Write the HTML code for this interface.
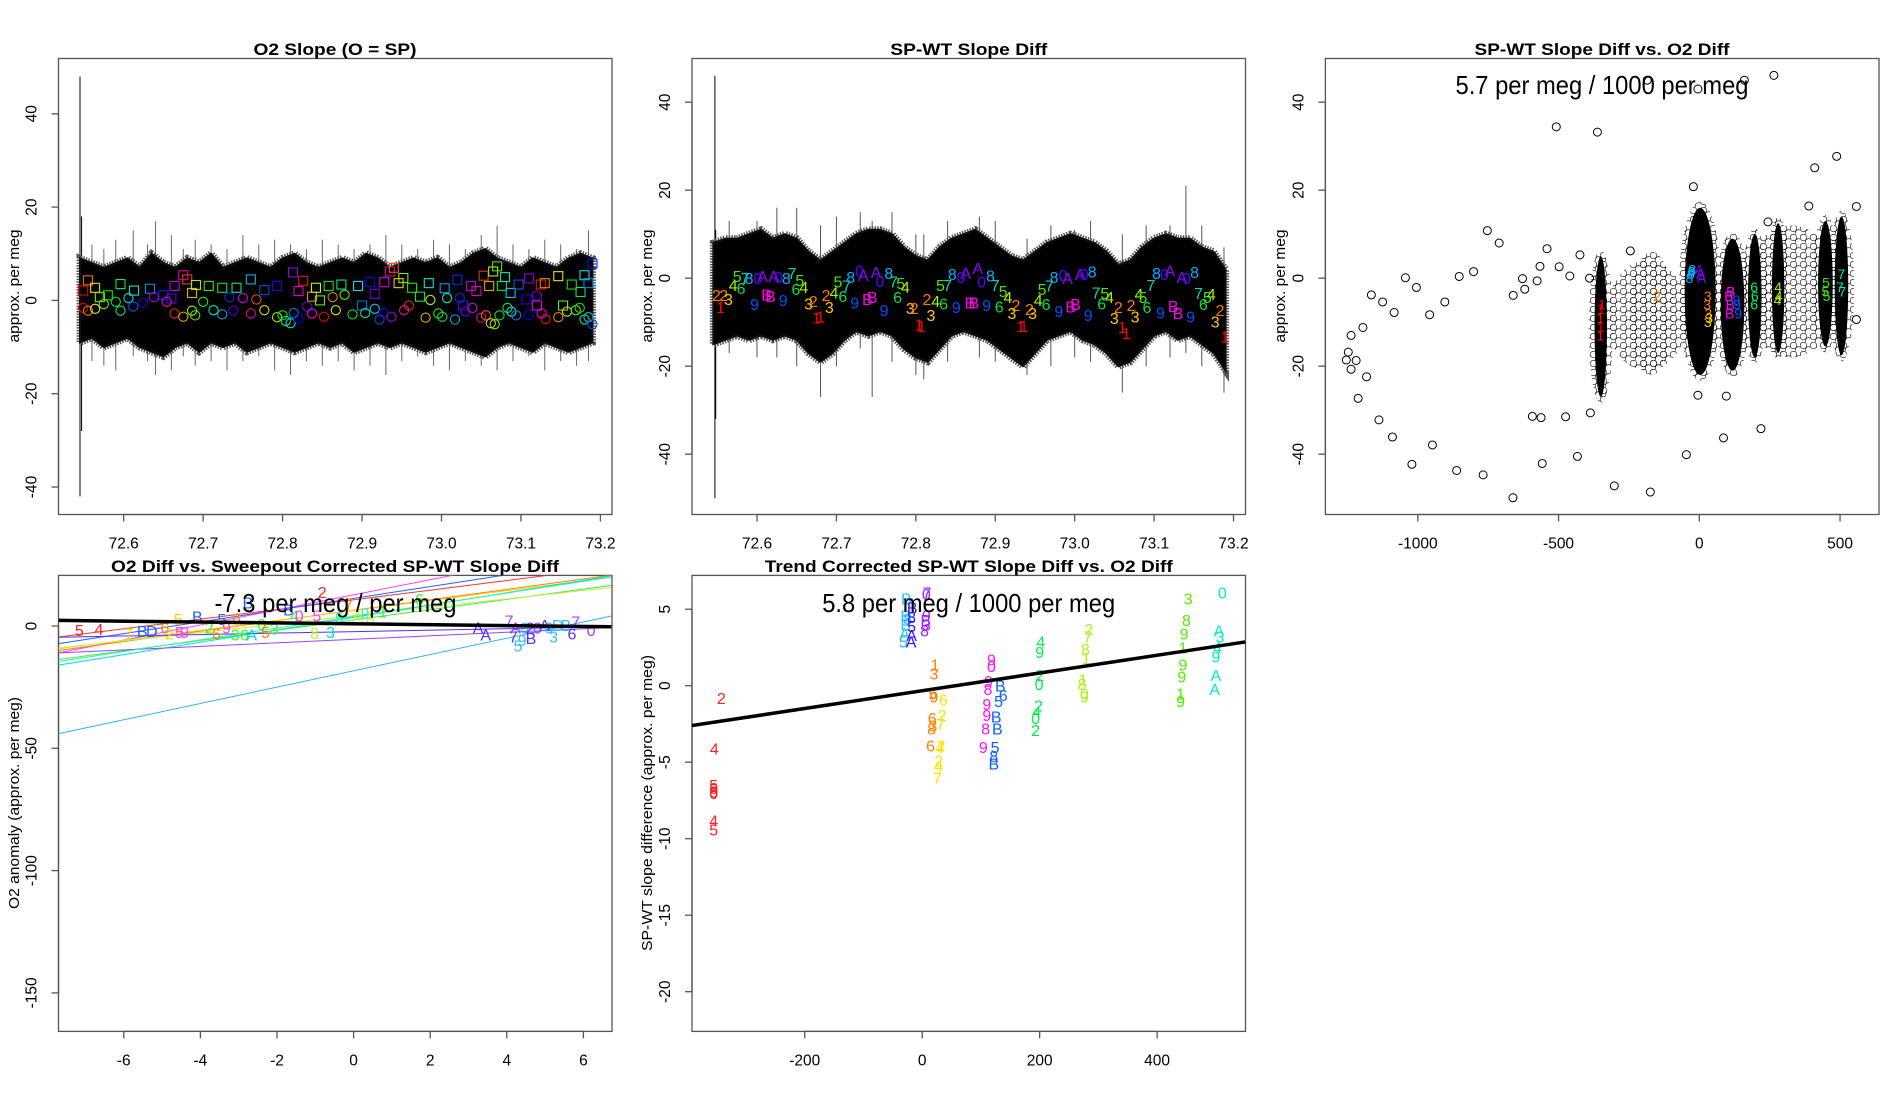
<!DOCTYPE html>
<html><head><meta charset="utf-8">
<style>
html,body{margin:0;padding:0;background:#fff;}
svg{display:block;font-family:"Liberation Sans",Arial,sans-serif;}
</style></head>
<body>
<svg id="fig" width="1900" height="1100" viewBox="0 0 1900 1100" xmlns="http://www.w3.org/2000/svg">
<defs>
<clipPath id="c1"><rect x="58.5" y="58.5" width="553.5" height="456"/></clipPath>
<clipPath id="c2"><rect x="692" y="58.5" width="553.5" height="456"/></clipPath>
<clipPath id="c3"><rect x="1325.4" y="58.5" width="553.6" height="456"/></clipPath>
<clipPath id="c4"><rect x="58.5" y="575.4" width="553.5" height="456"/></clipPath>
<clipPath id="c5"><rect x="692" y="575.4" width="553.5" height="456"/></clipPath>
<pattern id="circpat" width="10" height="9" patternUnits="userSpaceOnUse">
<circle cx="3.5" cy="3.5" r="3.3" fill="none" stroke="#000" stroke-width="0.6"/>
<circle cx="8.5" cy="8" r="3.3" fill="none" stroke="#000" stroke-width="0.6"/>
</pattern>
</defs>
<rect width="1900" height="1100" fill="#fff"/>
<g id="p1"></g>
<g id="p2"></g>
<g id="p3"></g>
<g id="p4"></g>
<g id="p5"></g>
<g font-weight="bold" font-size="17" text-anchor="middle">
<text x="335" y="55" textLength="163" lengthAdjust="spacingAndGlyphs">O2 Slope (O = SP)</text>
<text x="968.75" y="55" textLength="157" lengthAdjust="spacingAndGlyphs">SP-WT Slope Diff</text>
<text x="1602" y="55" textLength="255" lengthAdjust="spacingAndGlyphs">SP-WT Slope Diff vs. O2 Diff</text>
<text x="335" y="572" textLength="448" lengthAdjust="spacingAndGlyphs">O2 Diff vs. Sweepout Corrected SP-WT Slope Diff</text>
<text x="968.75" y="572" textLength="408" lengthAdjust="spacingAndGlyphs">Trend Corrected SP-WT Slope Diff vs. O2 Diff</text>
</g>
<g font-size="15" text-anchor="middle">
<text transform="translate(19,286) rotate(-90)" textLength="113" lengthAdjust="spacingAndGlyphs">approx. per meg</text>
<text transform="translate(652,286) rotate(-90)" textLength="113" lengthAdjust="spacingAndGlyphs">approx. per meg</text>
<text transform="translate(1285,286) rotate(-90)" textLength="113" lengthAdjust="spacingAndGlyphs">approx. per meg</text>
<text transform="translate(19,803) rotate(-90)" textLength="212" lengthAdjust="spacingAndGlyphs">O2 anomaly (approx. per meg)</text>
<text transform="translate(652,803) rotate(-90)" textLength="296" lengthAdjust="spacingAndGlyphs">SP-WT slope difference (approx. per meg)</text>
</g>
</svg>
<script>
// ---------- data arrays ----------
const xTicksTime = [72.6,72.7,72.8,72.9,73.0,73.1,73.2];
const xTickLabelsTime = ["72.6","72.7","72.8","72.9","73.0","73.1","73.2"];
const yTicksTop = [-40,-20,0,20,40];
const yTickLabelsTop = ["-40","-20","0","20","40"];
const xTicksP3 = [-1000,-500,0,500];
const xTickLabelsP3 = ["-1000","-500","0","500"];
const xTicksP4 = [-6,-4,-2,0,2,4,6];
const xTickLabelsP4 = ["-6","-4","-2","0","2","4","6"];
const yTicksP4 = [-150,-100,-50,0];
const yTickLabelsP4 = ["-150","-100","-50","0"];
const xTicksP5 = [-200,0,200,400];
const xTickLabelsP5 = ["-200","0","200","400"];
const yTicksP5 = [-20,-15,-10,-5,0,5];
const yTickLabelsP5 = ["-20","-15","-10","-5","0","5"];

// panel 1 series envelope
const envX = [72.545,72.56,72.575,72.59,72.605,72.62,72.635,72.65,72.665,72.68,72.695,72.71,72.725,72.74,72.755,72.77,72.785,72.80,72.815,72.83,72.845,72.86,72.875,72.89,72.905,72.92,72.935,72.95,72.965,72.98,72.995,73.01,73.025,73.04,73.055,73.07,73.085,73.10,73.115,73.13,73.145,73.16,73.175,73.19];
const p1Upper = [9,8,7,8,9,7,10,8,7,9,8,10,7,8,9,8,7,9,10,8,7,8,9,8,10,9,7,8,9,8,9,7,8,10,11,9,8,7,9,8,7,9,10,9];
const p1Lower = [-9,-8,-10,-9,-8,-10,-11,-12,-10,-9,-11,-9,-10,-9,-11,-10,-9,-10,-11,-10,-9,-10,-9,-11,-10,-9,-10,-9,-10,-11,-10,-9,-10,-11,-12,-10,-9,-10,-11,-9,-10,-11,-10,-9];
const p1SpikeX = [72.545,72.547,72.56,72.575,72.59,72.612,72.63,72.64,72.66,72.675,72.69,72.71,72.73,72.75,72.77,72.79,72.81,72.83,72.85,72.87,72.89,72.91,72.93,72.95,72.97,72.99,73.01,73.03,73.05,73.07,73.09,73.11,73.13,73.15,73.17,73.185];
const p1SpikeHi = [48,18,12,11,13,15,12,17,14,11,13,12,11,14,12,13,12,11,13,12,11,12,14,12,11,13,12,11,14,16,12,11,13,12,11,15];
const p1SpikeLo = [-42,-28,-13,-14,-15,-12,-13,-16,-15,-12,-14,-13,-15,-13,-12,-15,-16,-13,-14,-13,-15,-14,-16,-13,-12,-14,-15,-13,-14,-15,-13,-12,-15,-13,-14,-13];
const p1SqX = [72.549,72.555,72.564,72.57,72.58,72.596,72.613,72.633,72.65,72.66,72.664,72.675,72.68,72.686,72.691,72.707,72.724,72.742,72.76,72.777,72.793,72.813,72.82,72.826,72.837,72.842,72.847,72.858,72.874,72.895,72.9,72.91,72.916,72.928,72.935,72.94,72.946,72.952,72.963,72.973,72.984,73.004,73.02,73.027,73.037,73.044,73.053,73.06,73.065,73.07,73.076,73.08,73.087,73.097,73.107,73.11,73.12,73.125,73.13,73.147,73.153,73.164,73.175,73.18,73.185,73.19];
const p1SqY = [2.1,4.3,2.7,0.7,1.1,3.5,2.1,2.5,1.1,0.4,3.1,5.4,4.5,1.6,3.3,3.1,2.7,2.7,4.5,2.2,3.1,6,2,4.2,0.8,2.7,0,3.1,3.4,3.1,-1.1,3.9,1.4,3.9,6.2,7,3.7,4.8,2.7,0.8,3.7,2.6,4.4,-1.1,3.1,2,5.3,3.1,6.2,7.3,3.1,5,1.6,3.4,0.2,4.7,-1.1,3.4,3.7,5.2,-1.1,3.4,1.8,5.4,3.7,7.9];
const p1CiX = [72.549,72.555,72.564,72.575,72.59,72.596,72.606,72.612,72.624,72.638,72.654,72.664,72.675,72.686,72.69,72.7,72.713,72.724,72.733,72.738,72.75,72.76,72.767,72.777,72.793,72.8,72.804,72.81,72.814,72.82,72.831,72.837,72.852,72.863,72.867,72.878,72.888,72.904,72.916,72.922,72.927,72.937,72.953,72.959,72.98,72.986,72.996,73.001,73.007,73.017,73.023,73.03,73.039,73.05,73.056,73.062,73.067,73.073,73.083,73.088,73.094,73.11,73.12,73.126,73.131,73.147,73.158,73.169,73.174,73.18,73.185,73.19];
const p1CiY = [-1.6,-2.2,-1.8,-0.8,-0.3,-2.2,0.5,-1.3,-0.5,0.7,-0.3,-2.8,-3.5,-2.2,-3.2,-0.3,-2.1,-3,0.7,-2.2,0.5,-2.8,0.2,-2.1,-3.6,-3.2,-4.4,-4.9,-2.7,-3.9,-1.3,-2.8,-3.5,0.7,-2.1,1.2,-3,-2.7,-1.8,-4.1,-2.7,-3.5,-2.1,-1.1,-3.7,0.1,-2.8,-3.5,0.5,-4.1,0.5,-2.4,-1.6,-3.7,-3.2,-4.9,-5.1,-3.2,-1.6,-2.4,-3.2,-3.1,1,-2.8,-4,-3.6,-2.4,-2.1,-1.6,-4.1,-3.6,-5.1];

// panel 2 envelope
const p2Upper = [8,9,9,10,11,9,10,9,6,4,6,8,10,11,11,10,7,5,4,7,9,10,11,9,7,5,4,6,8,9,10,9,8,6,3,4,7,9,10,9,9,7,6,2];
const p2Lower = [-15,-14,-13,-14,-13,-14,-13,-14,-17,-19,-17,-14,-12,-13,-12,-13,-16,-18,-19,-16,-13,-12,-13,-14,-16,-18,-20,-17,-14,-13,-12,-14,-15,-17,-20,-19,-16,-13,-12,-14,-13,-15,-17,-21];
const p2SpikeX = [72.547,72.548,72.565,72.6,72.625,72.65,72.68,72.7,72.73,72.745,72.77,72.8,72.81,72.84,72.88,72.9,72.94,72.97,73.0,73.02,73.06,73.09,73.12,73.14,73.16,73.188];
const p2SpikeHi = [46,11,13,13,16,16,12,14,15,13,15,10,10,13,14,13,9,12,11,13,10,12,12,21,12,7];
const p2SpikeLo = [-50,-32,-17,-18,-18,-20,-27,-20,-16,-27,-19,-22,-23,-19,-18,-19,-22,-20,-18,-19,-26,-20,-18,-17,-20,-26];
const p2LabX = [72.549,72.558,72.564,72.554,72.570,72.580,72.575,72.585,72.590,72.601,72.607,72.612,72.617,72.621,72.627,72.637,72.644,72.597,72.633,72.654,72.649,72.659,72.665,72.671,72.675,72.680,72.687,72.691,72.697,72.702,72.708,72.713,72.718,72.729,72.734,72.723,72.739,72.745,72.750,72.755,72.766,72.772,72.781,72.787,72.777,72.760,72.793,72.798,72.804,72.807,72.819,72.814,72.825,72.835,72.851,72.831,72.840,72.846,72.857,72.863,72.878,72.883,72.894,72.868,72.873,72.889,72.900,72.910,72.916,72.905,72.926,72.921,72.932,72.936,72.943,72.947,72.954,72.964,72.959,72.968,72.974,72.985,72.991,72.980,72.995,73.001,73.007,73.012,73.022,73.027,73.038,73.044,73.034,73.017,73.055,73.050,73.060,73.065,73.071,73.076,73.081,73.086,73.091,73.096,73.103,73.113,73.120,73.108,73.124,73.130,73.135,73.141,73.151,73.146,73.156,73.162,73.167,73.172,73.177,73.183,73.189];
const p2LabY = [-3.8,-3.8,-4.7,-6.6,-1.6,-2.2,0.5,0.1,0.1,0.1,0.5,-3.7,-4.0,0.5,0.3,0.1,1.2,-5.9,-5.0,-0.4,-2.5,-2.0,-5.7,-5.2,-8.9,-8.7,-3.8,-6.6,-3.2,-0.8,-4.0,-1.7,0.3,1.8,0.7,-5.5,-4.7,-4.3,1.4,-0.6,1.2,-0.8,-1.1,-2.0,-4.3,-7.2,-6.8,-6.8,-10.5,-10.9,-8.4,-4.7,-5.2,-5.8,-6.6,-1.6,-1.6,0.9,0.3,1.2,2.3,-0.8,0.6,-5.5,-5.5,-6.1,-1.6,-2.9,-4.3,-6.4,-6.1,-7.9,-10.9,-10.9,-7.0,-7.9,-5.0,-5.9,-2.5,-1.7,0.3,0.7,0.1,-7.5,-6.4,-5.9,1.0,1.0,1.5,-3.2,-3.4,-4.3,-5.7,-8.4,-6.6,-9.0,-11.1,-12.5,-6.1,-8.7,-3.6,-4.3,-6.6,-1.6,1.2,1.0,1.8,-7.8,-6.3,-7.9,0.3,0.1,1.4,-8.7,-3.4,-5.9,-4.3,-3.6,-9.8,-7.2,-13.2];
const p2LabChar = ["2","2","3","1","4","6","5","7","8","0","A","B","B","A","0","8","7","9","9","5","6","4","3","2","1","1","2","3","4","5","6","7","8","0","A","9","B","B","A","0","8","7","5","4","6","9","3","2","1","1","3","2","4","6","9","5","7","8","0","A","A","0","8","B","B","9","7","5","4","6","2","3","1","1","2","3","4","6","5","7","8","0","A","9","B","B","A","0","8","7","5","4","6","9","2","3","1","1","2","3","4","5","6","7","8","0","A","9","B","B","A","0","8","9","7","6","5","4","3","2","1"];
const charColors = {"1":"#FF0000","2":"#FF7A00","3":"#FFC800","4":"#A8F000","5":"#40E800","6":"#00E040","7":"#00D8A8","8":"#00B0FF","9":"#0050FF","0":"#5000FF","A":"#9000FF","B":"#FF00E8"};

// panel 3
const p3OutX = [-1254,-1247,-1237,-1237,-1219,-1212,-1195,-1182,-1165,-1138,-1125,-1090,-1084,-1044,-1021,-1005,-958,-948,-904,-862,-853,-802,-768,-753,-711,-662,-661,-628,-620,-593,-576,-566,-562,-558,-541,-508,-498,-475,-460,-433,-424,-390,-387,-362,-302,-174,-46,-21,86,219,265,389,410,488,558,558,-5,96,-245,244,-185,-5,160];
const p3OutY = [-18.6,-16.8,-20.7,-13,-18.7,-27.3,-11.2,-22.4,-3.8,-32.2,-5.4,-36.1,-7.8,0.1,-42.3,-2.1,-8.3,-37.9,-5.4,-43.7,0.4,1.5,-44.7,10.8,8,-49.9,-3.9,-0.1,-2.5,-31.4,-0.6,2.7,-31.7,-42.1,6.7,34.4,2.6,-31.5,0.5,-40.5,5.3,0,-30.6,33.2,-47.2,-48.6,-40.1,20.8,-36.3,-34.2,46.1,16.4,25.1,27.7,16.3,-9.4,-26.6,-26.8,6.2,12.8,45,43,45];
const p3ColX = [-350,3,118,197,280,448,505];
const p3ColTop = [5,16,9,10,12.5,13,14];
const p3ColBot = [-27,-22,-21,-18,-17,-15.5,-17.5];
const p3ColHalfW = [22,55,42,24,22,26,24];
const p3BandX0 = [-330,-250,-60,150];
const p3BandX1 = [-40,-90,60,500];
const p3BandY0 = [-21,-22,-20,-18];
const p3BandY1 = [4,6,10,12];
const p3LabX = [-350,-352,-350,-352,-346,-150,-30,-25,-35,-28,5,0,8,30,28,32,35,30,105,110,108,112,135,138,132,195,197,195,280,282,278,450,448,452,505,500,508];
const p3LabY = [-7,-9,-11,-13,-6,-4,1,2,0,1.5,1,2,0,-4,-6,-8,-9,-10,-4,-6,-8,-3,-6,-8,-5,-2,-4,-6,-2,-4,-5,-1,-3,-4,1,-2,-3];
const p3LabChar = ["1","1","1","1","1","2","8","8","8","8","A","A","A","3","3","3","3","3","B","B","B","B","9","9","9","6","6","6","4","4","4","5","5","5","7","7","7"];
const p3LabColor = ["#FF0000","#FF0000","#FF0000","#FF0000","#FF0000","#FF8000","#00B0FF","#00B0FF","#00B0FF","#00B0FF","#8000FF","#8000FF","#8000FF","#FF8000","#FF8000","#FF8000","#FFD000","#FFD000","#FF00FF","#FF00FF","#FF00FF","#FF00FF","#0050FF","#0050FF","#0050FF","#00F060","#00F060","#00F060","#A8F000","#A8F000","#A8F000","#40E800","#40E800","#40E800","#00E8B0","#00E8B0","#00E8B0"];

// panel 4
const p4LineLeft = [-4.5,-7.2,-11,-10,-9.3,-16,-13.7,-9,-44,-11,-4.6,-14.5];
const p4LineRight = [24,27.5,33.5,20.8,20,20.5,16.6,15.8,4.1,-0.6,-0.3,20];
const p4LineColor = ["#FF3030","#2060FF","#FF40FF","#FF8000","#FFD000","#00E0E0","#40F040","#C0F040","#30B0FF","#A040FF","#5030FF","#30F0B0"];
const p4FitSlope = -0.18;
const p4FitIntercept = 0.9;
const p4LabX = [-7.16,-6.65,-5.87,-5.52,-5.27,-4.93,-4.58,-4.81,-4.55,-4.41,-4.08,-3.44,-3.58,-3.77,-3.09,-3.06,-2.85,-2.66,-3.32,-2.76,-2.4,-2.3,-1.7,-2.07,-1.54,-0.82,-1.42,-0.96,-1.02,-0.6,-0.12,-0.37,0.1,0.3,0.44,0.76,1.72,3.25,3.45,4.06,4.23,4.29,4.17,4.4,4.46,4.63,4.61,4.8,4.99,5.09,5.22,5.33,5.54,5.7,5.8,6.2];
const p4LabY = [-1.6,-1.3,-3.1,-2,-2,-0.6,2.8,-3.1,-2.5,-2.5,3.8,2.8,-3.1,-0.6,-3.4,3.1,-3.5,-3.5,-0.6,9.6,0.9,-2.5,6.7,-1,4.2,14,4.2,4.2,-2.8,-2.5,9.2,3.4,4.2,5.3,3.1,6,11.1,-0.6,-3.5,2.3,-0.6,-7.9,-4.2,-5.7,-0.6,-5,-0.6,-0.6,0.4,-0.6,-4.2,0.4,0.4,-3.1,1.9,-1.6];
const p4LabChar = ["5","4","7","B","D","6","5","2","5","9","B","5","6","2","3","6","6","A","9","B","0","5","B","3","4","2","0","5","8","3","7","5","A","9","8","1","6","A","A","7","A","5","7","9","0","B","2","0","A","6","3","D","B","6","7","0"];
const p4LabColor = ["#FF2020","#FF2020","#FFD000","#2060FF","#2060FF","#FF8000","#FFD000","#FFD000","#FF40FF","#FF40FF","#2060FF","#2060FF","#FF8000","#40F040","#40F040","#FF8000","#40F040","#00E0E0","#FF40FF","#2060FF","#40F040","#FF8000","#2060FF","#40F040","#40F040","#FF2020","#FF40FF","#FF40FF","#C0F040","#00E0E0","#FF8000","#30F0B0","#C0F040","#30F0B0","#C0F040","#40F040","#40F040","#5030FF","#5030FF","#A040FF","#A040FF","#30C0FF","#5030FF","#30C0FF","#30C0FF","#5030FF","#5030FF","#A040FF","#5030FF","#30C0FF","#30C0FF","#30C0FF","#30C0FF","#5030FF","#A040FF","#A040FF"];

// panel 5
const p5FitSlope = 0.0058;
const p5FitIntercept = -0.33;
const p5LabX = [-342,-354,-355,-355,-355,-355,-355,-355,-27,-32,-30,-28,-28,-25,-19,-18,-18,-18,-17,8,7,7,6,4,7,22,20,18,17,18,16,14,20,36,34,31,32,30,28,28,26,118,118,113,112,110,110,108,104,133,138,130,126,128,124,122,122,202,200,200,199,198,195,193,193,284,282,278,279,274,272,276,276,453,450,446,444,444,442,440,440,511,505,507,503,500,500,498];
const p5LabY = [-0.8,-4.1,-6.5,-6.7,-6.9,-7.0,-8.8,-9.4,5.7,2.9,3.4,4.6,4.0,4.4,2.9,3.3,4.5,3.9,5.1,6.1,6.0,4.6,4.3,3.6,4.0,1.4,0.8,-0.5,-2.1,-2.6,-2.8,-3.9,-0.7,-0.9,-1.9,-2.5,-3.9,-4.0,-4.9,-5.2,-6.0,1.7,1.3,0.3,-0.2,-1.2,-1.9,-2.8,-4.0,0,-0.6,-1.0,-2.0,-2.8,-4.0,-4.6,-5.1,2.9,2.2,0.7,0.1,-1.3,-1.7,-2.1,-2.9,3.7,3.2,2.4,1.8,0.4,0.1,-0.5,-0.7,5.7,4.3,3.4,2.5,1.4,0.6,-0.5,-1.0,6.1,3.6,3.2,2.5,1.9,0.7,-0.2];
const p5LabChar = ["2","4","5","6","8","0","4","5","B","5","A","B","B","8","A","A","8","5","B","7","0","9","B","8","3","1","3","5","6","3","8","6","9","6","2","7","2","4","2","4","7","9","0","9","8","9","9","8","9","B","6","5","B","B","5","8","B","4","9","2","0","2","4","0","2","2","7","8","1","1","8","0","9","3","8","9","1","9","9","1","9","0","A","3","4","9","A","A"];
const p5LabColor = ["#FF2020","#FF2020","#FF2020","#FF2020","#FF2020","#FF2020","#FF2020","#FF2020","#20C0FF","#20C0FF","#20C0FF","#20C0FF","#20C0FF","#20C0FF","#3010FF","#3010FF","#3010FF","#3010FF","#3010FF","#A020FF","#A020FF","#A020FF","#A020FF","#A020FF","#A020FF","#FF8000","#FF8000","#FF8000","#FF8000","#FF8000","#FF8000","#FF8000","#FF8000","#FFE000","#FFE000","#FFE000","#FFE000","#FFE000","#FFE000","#FFE000","#FFE000","#FF10FF","#FF10FF","#FF10FF","#FF10FF","#FF10FF","#FF10FF","#FF10FF","#FF10FF","#1060FF","#1060FF","#1060FF","#1060FF","#1060FF","#1060FF","#1060FF","#1060FF","#00F050","#00F050","#00F050","#00F050","#00F050","#00F050","#00F050","#00F050","#B0F020","#B0F020","#B0F020","#B0F020","#B0F020","#B0F020","#B0F020","#B0F020","#50F000","#50F000","#50F000","#50F000","#50F000","#50F000","#50F000","#50F000","#00F0C0","#00F0C0","#00F0C0","#00F0C0","#00F0C0","#00F0C0","#00F0C0"];

// ---------- helpers ----------
const NS = "http://www.w3.org/2000/svg";
function mk(parent, tag, attrs, name) {
  const el = document.createElementNS(NS, tag);
  for (const k in attrs) el.setAttribute(k, attrs[k]);
  
  
  parent.appendChild(el);
  return el;
}
function txt(parent, x, y, s, attrs, name) {
  const el = mk(parent, 'text', Object.assign({x: x, y: y}, attrs), name);
  el.textContent = s;
  return el;
}
function panel(id, P, xt, xl, yt, yl) {
  const g = document.getElementById(id);
  mk(g, 'rect', {x:P.L, y:P.T, width:P.R-P.L, height:P.B-P.T, fill:'none', stroke:'#555', 'stroke-width':1.3}, 'plot-frame');
  const ax = mk(g, 'g', {}, 'x-axis');
  mk(ax, 'line', {x1:P.sx(xt[0]), x2:P.sx(xt[xt.length-1]), y1:P.B, y2:P.B, stroke:'#555','stroke-width':1.3}, 'x-axis-line');
  xt.forEach((v,i) => {
    mk(ax, 'line', {x1:P.sx(v), x2:P.sx(v), y1:P.B, y2:P.B+7, stroke:'#555','stroke-width':1.3}, 'x-tick');
    txt(ax, P.sx(v), P.B+34, xl[i], {'font-size':15.5,'text-anchor':'middle'}, 'x-tick-label');
  });
  const ay = mk(g, 'g', {}, 'y-axis');
  mk(ay, 'line', {x1:P.L, x2:P.L, y1:P.sy(yt[0]), y2:P.sy(yt[yt.length-1]), stroke:'#555','stroke-width':1.3}, 'y-axis-line');
  yt.forEach((v,i) => {
    mk(ay, 'line', {x1:P.L-7, x2:P.L, y1:P.sy(v), y2:P.sy(v), stroke:'#555','stroke-width':1.3}, 'y-tick');
    txt(ay, 0, 0, yl[i], {'font-size':15.5,'text-anchor':'middle', transform:'translate('+(P.L-22)+','+P.sy(v)+') rotate(-90)'}, 'y-tick-label');
  });
  return g;
}
function band(d, P, up, lo, name) {
  let pts = envX.map((x,i)=>P.sx(x)+','+P.sy(up[i]));
  pts = pts.concat(envX.slice().reverse().map((x,j)=>P.sx(x)+','+P.sy(lo[envX.length-1-j])));
  mk(d,'polygon',{points:pts.join(' '),fill:'none',stroke:'#555','stroke-width':7,'stroke-dasharray':'1.5 1.2'},name+'-fringe');
  mk(d,'polygon',{points:pts.join(' '),fill:'#000',stroke:'#111','stroke-width':2},name);
}

// ---------- panel 1 ----------
const P1 = {L:58.5,R:612,T:58.5,B:514.5, sx:v=>123.7+(v-72.6)*794.5, sy:v=>300.4-v*4.665};
(function(){
  const g = panel('p1', P1, xTicksTime, xTickLabelsTime, yTicksTop, yTickLabelsTop);
  const d = mk(g, 'g', {'clip-path':'url(#c1)'}, 'o2-slope-series');
  p1SpikeX.forEach((x,i)=>{
    mk(d,'line',{x1:P1.sx(x),x2:P1.sx(x),y1:P1.sy(p1SpikeHi[i]),y2:P1.sy(p1SpikeLo[i]),stroke: i<2?'#000':'#666','stroke-width':1},'series-spike');
  });
  band(d, P1, p1Upper, p1Lower, 'series-band');
  p1SqX.forEach((x,i)=>{
    const c = 'hsl('+((i*29)%330)+',100%,45%)';
    mk(d,'rect',{x:P1.sx(x)-4.5,y:P1.sy(p1SqY[i])-4.5,width:9,height:9,fill:'none',stroke:c,'stroke-width':1.1},'square-marker');
  });
  p1CiX.forEach((x,i)=>{
    const c = 'hsl('+((i*31)%330)+',100%,45%)';
    mk(d,'circle',{cx:P1.sx(x),cy:P1.sy(p1CiY[i]),r:4.6,fill:'none',stroke:c,'stroke-width':1.1},'circle-marker');
  });
})();

// ---------- panel 2 ----------
const P2 = {L:692,R:1245.5,T:58.5,B:514.5, sx:v=>757+(v-72.6)*794.2, sy:v=>278.2-v*4.4};
(function(){
  const g = panel('p2', P2, xTicksTime, xTickLabelsTime, yTicksTop, yTickLabelsTop);
  const d = mk(g, 'g', {'clip-path':'url(#c2)'}, 'slope-diff-series');
  p2SpikeX.forEach((x,i)=>{
    mk(d,'line',{x1:P2.sx(x),x2:P2.sx(x),y1:P2.sy(p2SpikeHi[i]),y2:P2.sy(p2SpikeLo[i]),stroke: i<2?'#000':'#555','stroke-width':1},'series-spike');
  });
  band(d, P2, p2Upper, p2Lower, 'series-band');
  p2LabX.forEach((x,i)=>{
    txt(d, P2.sx(x), P2.sy(p2LabY[i])+6, p2LabChar[i], {'font-size':16,'text-anchor':'middle',fill:charColors[p2LabChar[i]]}, 'code-label');
  });
})();

// ---------- panel 3 ----------
const P3 = {L:1325.4,R:1879,T:58.5,B:514.5, sx:v=>1699.3+v*0.2815, sy:v=>278.2-v*4.4};
(function(){
  const g = panel('p3', P3, xTicksP3, xTickLabelsP3, yTicksTop, yTickLabelsTop);
  const d = mk(g, 'g', {'clip-path':'url(#c3)'}, 'scatter-points');
  p3BandX0.forEach((x0,i)=>{
    const x1=P3.sx(x0), x2=P3.sx(p3BandX1[i]), y1=P3.sy(p3BandY1[i]), y2=P3.sy(p3BandY0[i]);
    mk(d,'ellipse',{cx:(x1+x2)/2,cy:(y1+y2)/2,rx:(x2-x1)/2,ry:(y2-y1)/2,fill:'url(#circpat)'},'scatter-density');
  });
  p3ColX.forEach((x,i)=>{
    const cy=(P3.sy(p3ColTop[i])+P3.sy(p3ColBot[i]))/2, ry=(P3.sy(p3ColBot[i])-P3.sy(p3ColTop[i]))/2;
    mk(d,'ellipse',{cx:P3.sx(x),cy:cy,rx:p3ColHalfW[i]*0.2815+6,ry:ry+6,fill:'url(#circpat)'},'scatter-cluster-halo');
    mk(d,'ellipse',{cx:P3.sx(x),cy:cy,rx:p3ColHalfW[i]*0.2815,ry:ry,fill:'#000'},'scatter-cluster');
  });
  p3OutX.forEach((x,i)=>{
    mk(d,'circle',{cx:P3.sx(x),cy:P3.sy(p3OutY[i]),r:4,fill:'none',stroke:'#000','stroke-width':1},'scatter-point');
  });
  p3LabX.forEach((x,i)=>{
    txt(d, P3.sx(x), P3.sy(p3LabY[i])+5, p3LabChar[i], {'font-size':14,'text-anchor':'middle',fill:p3LabColor[i]}, 'code-label');
  });
  txt(g, 1602, 94, '5.7 per meg / 1000 per meg', {'font-size':26,'text-anchor':'middle',textLength:293,lengthAdjust:'spacingAndGlyphs'}, 'slope-annotation');
})();

// ---------- panel 4 ----------
const P4 = {L:58.5,R:612,T:575.4,B:1031.4, sx:v=>353.6+v*38.3, sy:v=>626-v*2.446};
(function(){
  const g = panel('p4', P4, xTicksP4, xTickLabelsP4, yTicksP4, yTickLabelsP4);
  const d = mk(g, 'g', {'clip-path':'url(#c4)'}, 'per-group-fits');
  const xl=-7.7, xr=6.73;
  p4LineLeft.forEach((v,i)=>{
    mk(d,'line',{x1:P4.sx(xl),y1:P4.sy(v),x2:P4.sx(xr),y2:P4.sy(p4LineRight[i]),stroke:p4LineColor[i],'stroke-width':1},'group-fit-line');
  });
  p4LabX.forEach((x,i)=>{
    txt(d, P4.sx(x), P4.sy(p4LabY[i])+6, p4LabChar[i], {'font-size':16,'text-anchor':'middle',fill:p4LabColor[i]}, 'code-label');
  });
  mk(d,'line',{x1:P4.sx(xl),y1:P4.sy(p4FitIntercept+p4FitSlope*xl),x2:P4.sx(xr),y2:P4.sy(p4FitIntercept+p4FitSlope*xr),stroke:'#000','stroke-width':3.5},'overall-fit-line');
  txt(g, 335.5, 612, '-7.3 per meg / per meg', {'font-size':26,'text-anchor':'middle',textLength:242,lengthAdjust:'spacingAndGlyphs'}, 'slope-annotation');
})();

// ---------- panel 5 ----------
const P5 = {L:692,R:1245.5,T:575.4,B:1031.4, sx:v=>922.2+v*0.5873, sy:v=>685.7-v*15.3};
(function(){
  const g = panel('p5', P5, xTicksP5, xTickLabelsP5, yTicksP5, yTickLabelsP5);
  const d = mk(g, 'g', {'clip-path':'url(#c5)'}, 'trend-corrected-points');
  p5LabX.forEach((x,i)=>{
    txt(d, P5.sx(x), P5.sy(p5LabY[i])+6, p5LabChar[i], {'font-size':16,'text-anchor':'middle',fill:p5LabColor[i]}, 'code-label');
  });
  const xl=-392, xr=550;
  mk(d,'line',{x1:P5.sx(xl),y1:P5.sy(p5FitIntercept+p5FitSlope*xl),x2:P5.sx(xr),y2:P5.sy(p5FitIntercept+p5FitSlope*xr),stroke:'#000','stroke-width':3.5},'fit-line');
  txt(g, 968.7, 612, '5.8 per meg / 1000 per meg', {'font-size':26,'text-anchor':'middle',textLength:293,lengthAdjust:'spacingAndGlyphs'}, 'slope-annotation');
})();
</script>
</body></html>
